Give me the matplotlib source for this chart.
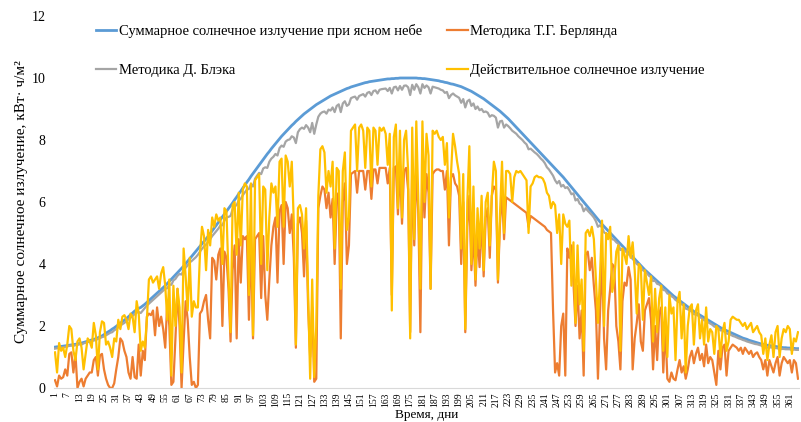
import numpy as np
import matplotlib
matplotlib.use("Agg")
import matplotlib.pyplot as plt

plt.rcParams['font.family'] = ['Liberation Serif', 'DejaVu Serif']

# daily values, kWh/m2, days 1..365
clear_sky = [
    1.32, 1.33, 1.33, 1.34, 1.35, 1.36, 1.37, 1.38, 1.39, 1.40,
    1.41, 1.42, 1.44, 1.45, 1.47, 1.49, 1.51, 1.53, 1.55, 1.57,
    1.59, 1.62, 1.65, 1.68, 1.72, 1.77, 1.81, 1.85, 1.90, 1.94,
    1.99, 2.04, 2.09, 2.14, 2.19, 2.24, 2.30, 2.36, 2.42, 2.48,
    2.53, 2.57, 2.60, 2.65, 2.70, 2.76, 2.82, 2.88, 2.94, 3.00,
    3.06, 3.12, 3.18, 3.24, 3.30, 3.37, 3.44, 3.51, 3.58, 3.65,
    3.72, 3.79, 3.86, 3.93, 4.01, 4.09, 4.17, 4.25, 4.33, 4.41,
    4.49, 4.57, 4.65, 4.73, 4.81, 4.89, 4.98, 5.07, 5.16, 5.25,
    5.34, 5.43, 5.52, 5.61, 5.70, 5.79, 5.88, 5.97, 6.07, 6.16,
    6.26, 6.35, 6.45, 6.54, 6.64, 6.73, 6.83, 6.92, 7.01, 7.10,
    7.19, 7.28, 7.37, 7.46, 7.55, 7.63, 7.72, 7.80, 7.88, 7.96,
    8.04, 8.12, 8.19, 8.26, 8.33, 8.40, 8.47, 8.53, 8.60, 8.66,
    8.72, 8.78, 8.84, 8.89, 8.94, 8.99, 9.04, 9.09, 9.14, 9.18,
    9.22, 9.26, 9.30, 9.34, 9.38, 9.42, 9.45, 9.48, 9.51, 9.54,
    9.57, 9.60, 9.63, 9.66, 9.68, 9.71, 9.73, 9.75, 9.77, 9.79,
    9.81, 9.83, 9.85, 9.86, 9.88, 9.89, 9.90, 9.91, 9.92, 9.93,
    9.94, 9.95, 9.96, 9.97, 9.97, 9.98, 9.98, 9.99, 9.99, 10.0,
    10.0, 10.0, 10.0, 10.0, 10.0, 10.0, 10.0, 10.0, 9.99, 9.99,
    9.98, 9.98, 9.97, 9.96, 9.95, 9.94, 9.93, 9.92, 9.91, 9.89,
    9.88, 9.86, 9.85, 9.83, 9.81, 9.80, 9.78, 9.76, 9.74, 9.72,
    9.69, 9.66, 9.63, 9.60, 9.57, 9.53, 9.49, 9.45, 9.41, 9.37,
    9.33, 9.28, 9.23, 9.18, 9.13, 9.08, 9.03, 8.98, 8.93, 8.87,
    8.81, 8.75, 8.69, 8.62, 8.55, 8.48, 8.41, 8.34, 8.27, 8.20,
    8.13, 8.06, 7.99, 7.92, 7.85, 7.78, 7.71, 7.64, 7.57, 7.50,
    7.43, 7.36, 7.29, 7.22, 7.15, 7.08, 7.01, 6.94, 6.87, 6.80,
    6.72, 6.64, 6.56, 6.48, 6.40, 6.32, 6.24, 6.16, 6.08, 6.00,
    5.92, 5.84, 5.76, 5.68, 5.60, 5.52, 5.44, 5.36, 5.28, 5.21,
    5.14, 5.07, 5.00, 4.93, 4.86, 4.79, 4.72, 4.65, 4.58, 4.51,
    4.44, 4.37, 4.30, 4.23, 4.16, 4.09, 4.02, 3.95, 3.88, 3.81,
    3.75, 3.69, 3.63, 3.57, 3.51, 3.45, 3.39, 3.33, 3.27, 3.21,
    3.15, 3.09, 3.03, 2.97, 2.92, 2.87, 2.82, 2.77, 2.72, 2.67,
    2.62, 2.57, 2.52, 2.47, 2.43, 2.39, 2.35, 2.31, 2.27, 2.23,
    2.19, 2.15, 2.11, 2.07, 2.03, 1.99, 1.95, 1.91, 1.88, 1.85,
    1.82, 1.79, 1.76, 1.73, 1.70, 1.67, 1.64, 1.61, 1.59, 1.57,
    1.54, 1.52, 1.50, 1.48, 1.46, 1.44, 1.42, 1.41, 1.39, 1.38,
    1.37, 1.36, 1.35, 1.34, 1.33, 1.32, 1.31, 1.30, 1.30, 1.29,
    1.29, 1.28, 1.28, 1.27, 1.27,
]

berlyand = [
    0.25, 0.05, 0.4, 0.3, 0.35, 0.6, 0.4, 1.1, 1.15, 0.5,
    1.1, 0.0, 0.2, 0.3, 0.05, 0.3, 0.4, 0.5, 0.5, 0.9,
    1.0, 0.4, 1.05, 1.1, 0.6, 0.3, 0.1, 0.0, 0.0, 0.15,
    0.6, 1.0, 1.6, 1.5, 1.2, 1.0, 0.5, 0.3, 1.0, 0.35,
    0.3, 1.4, 0.4, 1.2, 0.9, 2.3, 2.4, 2.35, 2.5, 1.7,
    2.6, 2.0, 2.3, 1.9, 1.3, 2.8, 2.0, 0.1, 0.2, 1.6,
    3.2, 2.0, 0.0, 1.5, 2.8, 2.2, 1.0, 0.1, 0.2, 0.0,
    0.1, 2.4, 2.5, 2.8, 3.0, 2.2, 1.6, 4.2, 4.1, 3.5,
    4.3, 4.5, 2.0, 4.4, 4.2, 3.2, 1.5, 3.8, 4.6, 1.6,
    4.8, 3.4, 4.9, 4.8, 4.9, 2.2, 4.9, 1.6, 4.8, 4.9,
    5.0, 2.9, 4.9, 3.0, 2.2, 3.5, 4.6, 5.2, 5.5, 3.4,
    5.7, 5.9, 4.0, 6.0, 5.8, 5.0, 5.6, 4.2, 1.3, 5.3,
    5.5, 5.0, 3.6, 5.4, 2.6, 1.0, 2.6, 0.2, 0.3, 5.8,
    6.2, 6.5, 6.4, 5.8, 6.3, 5.5, 6.1, 4.0, 6.0, 6.3,
    1.6, 6.0, 6.6, 4.0, 4.6, 6.9, 6.95, 7.0, 6.3, 7.0,
    7.0, 7.0, 6.4, 7.0, 7.0, 6.1, 7.05, 7.05, 6.6, 7.1,
    7.1, 7.1, 7.1, 6.6, 7.1, 3.0, 7.1, 7.15, 5.6, 7.15,
    5.3, 7.0, 7.1, 6.4, 1.8, 7.1, 4.6, 7.1, 5.6, 1.8,
    7.1, 5.5, 6.9, 6.3, 3.2, 6.9, 7.0, 7.05, 7.05, 7.0,
    7.0, 6.4, 7.0, 4.6, 6.8, 6.9, 6.6, 6.5, 6.2, 4.0,
    6.0, 1.8, 5.2, 6.2, 3.8, 5.0, 3.3, 5.0, 3.9, 5.6,
    3.6, 5.5, 5.8, 4.2, 6.2, 6.5, 6.4, 3.4, 5.3, 6.3,
    4.8, 6.15, 6.1, 6.05, 6.0, 5.95, 5.9, 5.85, 5.8, 5.75,
    5.7, 5.65, 5.2, 5.55, 5.5, 5.45, 5.4, 5.35, 5.3, 5.25,
    5.2, 5.1, 5.05, 5.0, 2.5, 0.5, 0.8, 0.4, 2.0, 2.4,
    0.4, 4.5, 4.2, 4.6, 3.4, 2.0, 3.3, 1.6, 2.5, 0.4,
    4.3, 4.4, 3.8, 4.2, 3.3, 2.5, 0.3, 2.4, 4.2, 1.6,
    0.6, 2.5, 3.2, 4.0, 3.9, 2.0, 1.5, 0.6, 2.8, 3.4,
    3.3, 3.9, 3.5, 0.6, 1.6, 2.1, 2.7, 1.5, 1.2, 2.5,
    2.7, 2.9, 2.2, 0.6, 2.0, 0.9, 2.4, 2.6, 0.5, 2.0,
    0.3, 0.2, 0.5, 0.3, 0.25, 0.6, 0.9, 0.5, 0.7, 0.3,
    0.6, 1.0, 1.2, 0.8, 1.1, 1.3, 0.9, 1.1, 0.7, 1.4,
    0.8, 1.0, 0.9, 0.5, 0.1, 1.2, 0.6, 1.3, 1.4, 0.4,
    1.2, 1.3, 1.4, 1.35, 1.3, 1.2, 1.3, 1.1, 1.3, 1.2,
    1.1, 1.2, 1.0, 1.1, 1.15, 1.0, 0.9, 0.6, 0.9, 0.4,
    0.9, 0.7, 0.5, 0.8, 1.0, 0.4, 0.8, 1.0, 0.9, 0.8,
    0.9, 0.5, 0.9, 0.8, 0.3,
]

black = [
    1.27, 1.28, 1.30, 1.31, 1.30, 1.33, 1.34, 1.36, 1.37, 1.36,
    1.38, 1.39, 1.41, 1.40, 1.44, 1.46, 1.48, 1.50, 1.52, 1.53,
    1.55, 1.58, 1.61, 1.64, 1.66, 1.70, 1.74, 1.78, 1.80, 1.86,
    1.90, 1.96, 2.01, 2.06, 2.10, 2.16, 2.22, 2.27, 2.33, 2.38,
    2.43, 2.45, 2.42, 2.50, 2.58, 2.66, 2.72, 2.78, 2.84, 2.90,
    2.96, 3.02, 3.08, 3.14, 3.20, 3.22, 3.34, 3.33, 3.47, 3.52,
    3.62, 3.68, 3.66, 3.80, 3.88, 3.96, 4.05, 4.10, 4.16, 4.22,
    4.30, 4.40, 4.49, 4.57, 4.62, 4.72, 4.80, 4.90, 4.98, 5.06,
    5.14, 5.24, 5.25, 5.40, 5.50, 5.52, 5.55, 5.76, 5.86, 5.90,
    6.05, 6.10, 6.22, 6.31, 6.40, 6.42, 6.58, 6.50, 6.75, 6.85,
    6.94, 6.90, 7.08, 7.12, 7.10, 7.30, 7.40, 7.46, 7.55, 7.50,
    7.74, 7.82, 7.78, 7.95, 8.00, 8.02, 8.12, 8.08, 7.90, 8.25,
    8.35, 8.40, 8.36, 8.48, 8.40, 8.25, 8.55, 8.20, 8.50, 8.75,
    8.85, 8.90, 8.92, 8.85, 8.98, 8.95, 9.05, 8.90, 9.10, 9.15,
    8.90, 9.18, 9.25, 9.10, 9.15, 9.35, 9.38, 9.40, 9.30, 9.42,
    9.45, 9.48, 9.40, 9.52, 9.55, 9.45, 9.58, 9.60, 9.50, 9.62,
    9.64, 9.65, 9.66, 9.58, 9.68, 9.50, 9.70, 9.72, 9.60, 9.74,
    9.62, 9.75, 9.76, 9.70, 9.45, 9.78, 9.62, 9.80, 9.70, 9.50,
    9.80, 9.68, 9.76, 9.70, 9.50, 9.72, 9.70, 9.68, 9.66, 9.62,
    9.60, 9.52, 9.55, 9.35, 9.45, 9.50, 9.44, 9.40, 9.36, 9.20,
    9.32, 9.05, 9.25, 9.30, 9.10, 9.18, 9.00, 9.08, 8.96, 9.00,
    8.90, 8.92, 8.88, 8.75, 8.80, 8.78, 8.72, 8.40, 8.60, 8.62,
    8.40, 8.50, 8.45, 8.38, 8.30, 8.25, 8.20, 8.12, 8.06, 8.00,
    7.92, 7.86, 7.70, 7.72, 7.66, 7.60, 7.55, 7.48, 7.40, 7.34,
    7.25, 7.12, 7.05, 6.95, 6.85, 6.70, 6.60, 6.68, 6.50, 6.55,
    6.45, 6.48, 6.38, 6.25, 6.28, 6.05, 6.10, 5.95, 5.90, 5.70,
    5.80, 5.72, 5.65, 5.58, 5.50, 5.38, 5.20, 5.25, 5.18, 5.02,
    4.98, 4.95, 4.90, 4.80, 4.78, 4.70, 4.65, 4.45, 4.50, 4.44,
    4.38, 4.32, 4.25, 4.16, 4.10, 4.00, 3.96, 3.90, 3.80, 3.76,
    3.70, 3.62, 3.58, 3.45, 3.46, 3.36, 3.34, 3.28, 3.16, 3.15,
    3.05, 3.02, 2.96, 2.92, 2.84, 2.80, 2.76, 2.70, 2.66, 2.56,
    2.54, 2.50, 2.46, 2.38, 2.37, 2.34, 2.28, 2.25, 2.18, 2.18,
    2.12, 2.08, 2.04, 1.98, 1.96, 1.93, 1.86, 1.85, 1.82, 1.76,
    1.74, 1.72, 1.68, 1.66, 1.63, 1.60, 1.58, 1.55, 1.53, 1.50,
    1.48, 1.46, 1.44, 1.42, 1.41, 1.39, 1.37, 1.34, 1.34, 1.30,
    1.31, 1.31, 1.28, 1.29, 1.28, 1.25, 1.26, 1.26, 1.25, 1.25,
    1.25, 1.22, 1.24, 1.23, 1.23,
]

actual = [
    1.15, 0.5, 1.45, 1.2, 1.3, 1.0, 1.4, 2.0, 1.9, 1.2,
    0.9, 1.5, 1.6, 1.3, 0.6, 1.1, 1.6, 1.5, 1.3, 2.1,
    1.7, 0.6, 1.8, 2.15, 2.1, 1.4, 1.5, 1.3, 1.0, 1.6,
    1.5, 2.2, 1.9, 2.3, 2.35, 2.2, 1.9, 2.4, 2.3, 1.8,
    2.8, 2.4, 1.2, 1.5, 1.3, 2.2, 3.5, 3.6, 3.4, 3.5,
    3.6, 3.2, 3.7, 3.9, 3.3, 2.2, 3.5, 0.4, 3.3, 2.0,
    3.2, 2.6, 0.5, 4.5, 3.6, 2.5, 4.2, 2.3, 2.8, 2.6,
    2.6, 4.3, 5.2, 4.9, 3.8, 5.1, 4.6, 5.5, 5.2, 5.6,
    5.4, 5.5, 4.0, 5.8, 5.7, 3.6, 1.8, 5.9, 6.0, 4.3,
    6.3, 4.6, 6.4, 6.6, 6.5, 3.0, 6.6, 1.7, 6.7, 6.8,
    6.9, 4.0, 6.5, 6.4, 3.8, 5.5, 6.6, 6.3, 6.5, 5.2,
    7.3, 7.4, 5.2, 7.5, 7.3, 6.5, 7.3, 5.3, 1.4, 5.8,
    5.9, 5.6, 4.5, 5.8, 3.0, 0.3, 3.5, 0.35, 2.0, 6.2,
    7.7, 7.8, 7.6, 6.3, 7.0, 6.5, 7.3, 4.5, 7.1, 7.0,
    3.2, 7.0, 7.6, 5.1, 5.5, 8.3, 8.4, 8.5, 7.0, 8.4,
    8.5, 8.3, 7.1, 8.4, 8.3, 6.5, 8.4, 8.3, 7.2, 8.4,
    8.3, 8.4, 8.2, 7.2, 8.2, 2.5, 8.1, 8.5, 5.8, 8.3,
    5.5, 8.0, 8.3, 7.0, 1.6, 8.4, 4.8, 8.6, 6.0, 3.2,
    8.6, 6.0, 8.2, 7.5, 3.2, 8.3, 8.2, 8.3, 8.1, 8.0,
    8.1, 7.2, 7.9, 5.5, 6.9, 8.2, 7.8, 7.3, 6.9, 4.5,
    6.9, 1.9, 6.0, 7.8, 4.0, 6.5, 3.5, 5.8, 4.5, 6.2,
    3.8, 6.0, 6.3, 4.6, 6.2, 7.3, 7.0, 3.5, 5.6, 7.3,
    5.0, 7.0, 7.0, 6.9, 6.0, 6.8, 7.0, 6.95, 7.0, 6.9,
    6.8, 6.7, 5.0, 6.5, 6.6, 6.8, 6.85, 6.8, 6.8, 6.75,
    6.6, 6.3, 6.2, 5.8, 6.0, 5.9, 5.0, 5.6, 4.0, 5.6,
    5.3, 5.2, 5.4, 3.3, 4.7, 2.1, 4.6, 2.7, 3.5, 1.2,
    5.0, 5.1, 4.9, 5.2, 4.8, 3.5, 2.1, 3.6, 5.4, 2.0,
    5.0, 4.8, 5.2, 3.1, 3.5, 4.4, 4.6, 1.2, 4.5, 4.3,
    4.0, 4.9, 4.2, 4.7, 3.8, 2.4, 4.0, 3.9, 2.2, 3.8,
    3.4, 3.0, 3.6, 1.5, 3.2, 1.8, 2.9, 3.3, 1.2, 2.6,
    1.0, 3.0, 2.4, 2.6, 0.9, 2.8, 3.1, 1.6, 2.7, 0.5,
    2.0, 2.6, 2.7, 1.4, 2.5, 2.7, 1.6, 2.2, 1.4, 2.6,
    1.5, 1.9, 1.8, 1.1, 2.0, 1.9, 1.0, 1.8, 2.1, 1.2,
    1.5, 2.2, 2.3, 2.25, 2.2, 2.2, 2.1, 2.0, 2.1, 1.9,
    2.0, 2.1, 1.8, 1.9, 2.0, 1.8, 1.7, 1.1, 1.6, 0.9,
    1.4, 1.7, 1.0, 1.8, 2.0, 1.0, 1.6, 1.9, 1.8, 2.0,
    1.9, 1.1, 1.6, 1.5, 1.8,
]

labels = [
    "Суммарное солнечное излучение при ясном небе",
    "Методика Т.Г. Берлянда",
    "Методика Д. Блэка",
    "Действительное солнечное излучение",
]
colors = ["#5B9BD5", "#ED7D31", "#A5A5A5", "#FFC000"]

days = np.arange(1, len(clear_sky) + 1)

fig = plt.figure(figsize=(8.01, 4.22), dpi=100)
ax = fig.add_axes([54 / 801, 1 - 388 / 422, 745 / 801, 372 / 422])

lines = []
for series, lab, col, lw in zip([clear_sky, berlyand, black, actual], labels, colors,
                                [2.0, 1.6, 1.6, 1.6]):
    ln, = ax.plot(days, series, color=col, lw=lw, label=lab, solid_joinstyle='round')
    lines.append(ln)

ax.set_xlim(0.5, 365.5)
ax.set_ylim(0, 12)
ax.set_yticks(range(0, 13, 2))
ax.set_xticks(days[::6])
ax.set_xticklabels([str(d) for d in days[::6]], rotation=90, fontsize=7)
ax.tick_params(axis='y', length=0, pad=6, labelsize=10)
ax.tick_params(axis='x', length=0, pad=3)
for side in ['top', 'right', 'left']:
    ax.spines[side].set_visible(False)
ax.spines['bottom'].set_color('#D9D9D9')

ax.set_ylabel("Суммарное солнечное излучение, кВт· ч/м²", fontsize=11)
ax.yaxis.set_label_coords(-0.035, 0.5)
ax.set_xlabel("Время, дни", fontsize=9.5)
ax.xaxis.set_label_coords(0.5, -0.056)

# two-row legend, rows: clear sky / Berlyand, Black / actual
order = [0, 2, 1, 3]
leg = fig.legend([lines[i] for i in order], [labels[i] for i in order], ncol=2,
                 loc='upper left', bbox_to_anchor=(96 / 801, 1 - 24 / 422),
                 frameon=False, fontsize=10.5, handlelength=1.4, handletextpad=0.15,
                 labelspacing=1.75, columnspacing=1.75, borderpad=0, borderaxespad=0)

fig.savefig("out.png", dpi=100)
